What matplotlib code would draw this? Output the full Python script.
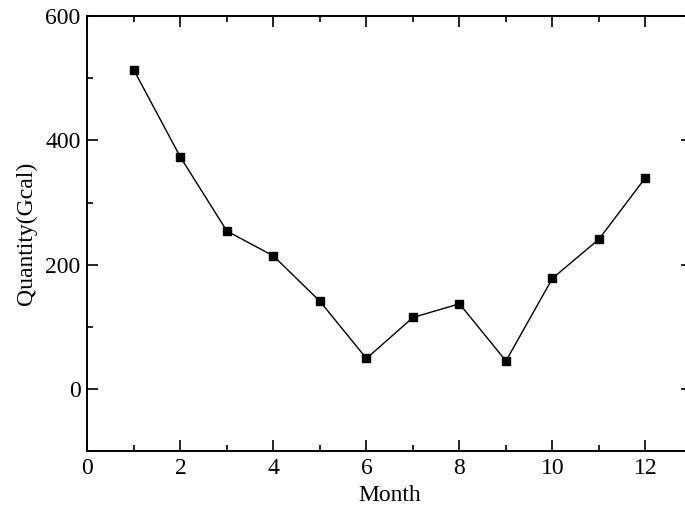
import matplotlib
matplotlib.use("Agg")
import matplotlib.pyplot as plt
from matplotlib.ticker import MultipleLocator

months = [1, 2, 3, 4, 5, 6, 7, 8, 9, 10, 11, 12]
quantity = [513, 373, 254, 214, 141, 49, 115, 137, 45, 178, 241, 340]

plt.rcParams["font.family"] = "Liberation Serif"
plt.rcParams["font.size"] = 17

fig = plt.figure(figsize=(6.85, 5.12), dpi=100)
# right spine sits just outside the canvas, as in the reference
ax = fig.add_axes([0.1276, 0.119, 0.8826, 0.8496])

ax.plot(months, quantity, color="black", lw=1.0, marker="s", markersize=5.6,
        markerfacecolor="black", markeredgecolor="black")

ax.set_xlim(0, 13)
ax.set_ylim(-100, 600)
ax.xaxis.set_major_locator(MultipleLocator(2))
ax.xaxis.set_minor_locator(MultipleLocator(1))
ax.yaxis.set_major_locator(MultipleLocator(200))
ax.yaxis.set_minor_locator(MultipleLocator(100))
ax.tick_params(which="both", direction="in", top=True, right=True, width=1.2)
ax.tick_params(which="major", length=8, pad=5)
ax.tick_params(which="minor", length=4.5)
for sp in ax.spines.values():
    sp.set_linewidth(1.4)

ax.set_xlabel("Month", labelpad=4)
ax.set_ylabel("Quantity(Gcal)", labelpad=6)

fig.savefig("out.png", dpi=100)
